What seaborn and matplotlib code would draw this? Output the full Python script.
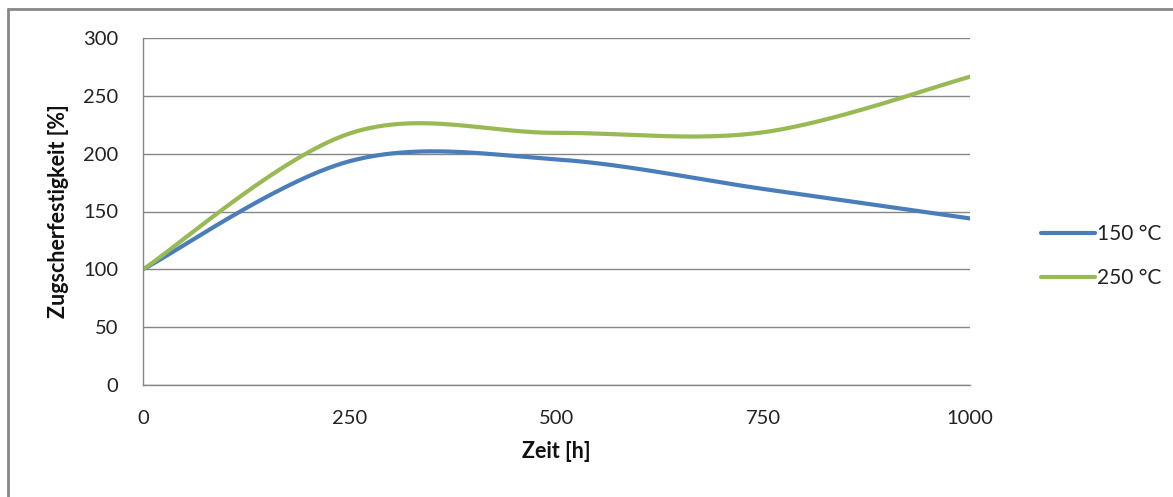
import numpy as np
import pandas as pd
import matplotlib
matplotlib.use("Agg")
import matplotlib.pyplot as plt
from matplotlib.lines import Line2D
import seaborn as sns

# ---- data ----
zeit = [0, 250, 500, 750, 1000]
s150 = [100, 193.5, 195, 169.5, 144]
s250 = [100, 217.5, 218, 218.5, 266.5]
series_labels = ["150 °C", "250 °C"]
colors = ["#4A7EBB", "#98B954"]
x_ticks = [0, 250, 500, 750, 1000]
y_ticks = [0, 50, 100, 150, 200, 250, 300]


def excel_smooth(xs, ys, n=60):
    """Render an Excel-style smoothed line (Catmull-Rom Bezier) through the points."""
    P = np.column_stack([xs, ys]).astype(float)
    out = []
    for i in range(len(P) - 1):
        p0 = P[i - 1] if i > 0 else P[i]
        p1, p2 = P[i], P[i + 1]
        p3 = P[i + 2] if i + 2 < len(P) else P[i + 1]
        c1 = p1 + (p2 - p0) / 6.0
        c2 = p2 - (p3 - p1) / 6.0
        t = np.linspace(0, 1, n)[:, None]
        seg = ((1 - t) ** 3) * p1 + 3 * ((1 - t) ** 2) * t * c1 + 3 * (1 - t) * t ** 2 * c2 + t ** 3 * p2
        out.append(seg if i == 0 else seg[1:])
    return np.vstack(out)


frames = []
for lab, ys in zip(series_labels, [s150, s250]):
    c = excel_smooth(zeit, ys)
    frames.append(pd.DataFrame({"Zeit": c[:, 0], "Wert": c[:, 1], "Serie": lab}))
df = pd.concat(frames, ignore_index=True)

sns.set_theme(style="white")
plt.rcParams["font.family"] = ["Lato", "DejaVu Sans"]

fig = plt.figure(figsize=(11.73, 4.97), dpi=100)
ax = fig.add_axes([143 / 1173, 1 - 385 / 497, (970 - 143) / 1173, (385 - 38) / 497])

sns.lineplot(data=df, x="Zeit", y="Wert", hue="Serie", estimator=None,
             sort=False, palette=colors, linewidth=3.0, ax=ax, legend=False)
for line in ax.lines:
    line.set_solid_capstyle("round")

ax.set_xlim(0, 1000)
ax.set_ylim(0, 300)
ax.set_xticks(x_ticks)
ax.set_yticks(y_ticks)
ax.set_xticklabels([str(v) for v in x_ticks])
ax.set_yticklabels([str(v) for v in y_ticks])
ax.yaxis.grid(True, color="#868686", linewidth=1.0)
ax.set_axisbelow(True)
for s in ["top", "right"]:
    ax.spines[s].set_visible(False)
for s in ["left", "bottom"]:
    ax.spines[s].set_color("#868686")
    ax.spines[s].set_linewidth(1.0)
ax.tick_params(axis="both", which="major", direction="out", length=6, width=1.0,
               color="#868686", labelsize=14.5, labelcolor="#222222")
ax.tick_params(axis="y", pad=12)
ax.tick_params(axis="x", pad=12)
ax.set_xlabel("Zeit [h]", fontsize=15.5, fontweight="bold", color="#111111", labelpad=10)
ax.set_ylabel("Zugscherfestigkeit [%]", fontsize=15.5, fontweight="bold", color="#111111", labelpad=10)

handles = [Line2D([0], [0], color=c, linewidth=3.0, solid_capstyle="round") for c in colors]
fig.legend(handles, series_labels, loc="center left", bbox_to_anchor=(1022 / 1173, 1 - 256 / 497),
           frameon=False, fontsize=15, handlelength=2.6, handletextpad=0.1, labelspacing=1.15,
           labelcolor="#222222")

# chart frame (Excel-style border, top and left visible)
fig.add_artist(Line2D([8 / 1173, 8 / 1173], [0, 1 - 9 / 497], transform=fig.transFigure,
                      color="#888888", linewidth=2.0))
fig.add_artist(Line2D([8 / 1173, 1], [1 - 9 / 497, 1 - 9 / 497], transform=fig.transFigure,
                      color="#888888", linewidth=2.0))

fig.savefig("out.png", dpi=100, facecolor="white")
